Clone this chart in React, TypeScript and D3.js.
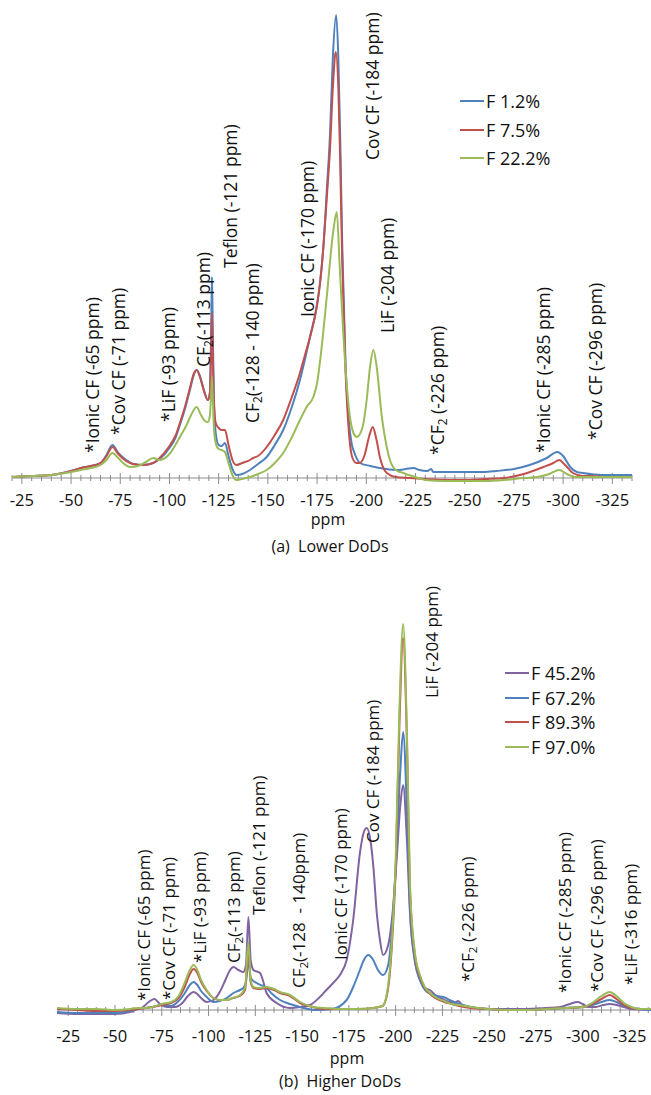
import React from 'react';
import * as d3 from 'd3';

type Pt = [number, number];

// ---------- Lower DoDs: 19F spectra (ppm, intensity) ----------
const lowerNames = ['F 1.2%', 'F 7.5%', 'F 22.2%'];
const lowerColors = ['#4f81bd', '#c0504d', '#9bbb59'];

const lowerF1_2: Pt[] = [
  [-20, 1], [-30, 2], [-40, 3], [-50, 7], [-55, 10], [-60, 12], [-65, 15], [-68, 23], [-71, 33], [-74, 25],
  [-78, 18], [-81.5, 14], [-86.6, 13], [-91.7, 15], [-95, 19], [-100, 30], [-103, 40], [-105.3, 53], [-108, 70],
  [-110.4, 88], [-112.5, 104], [-113.8, 108], [-115.5, 102], [-117.5, 88], [-119.5, 78], [-120.5, 85], [-121.2, 150],
  [-121.6, 201], [-122, 150], [-122.6, 80], [-123.5, 45], [-125, 33], [-126.5, 32], [-128.2, 35], [-130, 22],
  [-132, 9], [-134, 3], [-137, 4], [-140.9, 8], [-145, 14], [-149.4, 21], [-153.5, 33], [-157.8, 48], [-162, 70],
  [-166.3, 98], [-169, 120], [-171.4, 141], [-174.8, 171], [-176.5, 195], [-178.2, 231], [-180, 290], [-181.6, 345],
  [-183, 420], [-184.7, 463], [-185.8, 420], [-186.7, 345], [-187.8, 231], [-189.5, 111], [-191, 60], [-192.5, 35],
  [-194, 25], [-196.8, 15], [-202, 12], [-210, 9], [-216, 8], [-220, 9], [-224, 10], [-227, 8], [-231, 7], [-233, 9],
  [-234, 6], [-240, 6], [-250, 6], [-260, 6], [-266, 7], [-275, 9], [-283, 13], [-291.7, 20], [-297, 26], [-300, 22],
  [-303.6, 11], [-307, 6], [-310, 5], [-320, 3], [-335, 3],
];

const lowerF7_5: Pt[] = [
  [-20, 1], [-30, 2], [-40, 3], [-50, 7], [-55, 10], [-60, 12], [-65, 15], [-68, 22], [-71, 31], [-74, 24],
  [-78, 17], [-81.5, 14], [-86.6, 13], [-91.7, 15], [-95, 20], [-100, 32], [-103, 42], [-105.3, 55], [-108, 72],
  [-110.4, 90], [-112.5, 105], [-113.8, 108], [-115.5, 101], [-117.5, 87], [-119.5, 78], [-120.5, 84], [-121.2, 130],
  [-121.6, 165], [-122, 125], [-122.6, 75], [-123.5, 55], [-125, 50], [-126.5, 48], [-128.2, 48], [-130, 33],
  [-132, 18], [-134, 13], [-137, 15], [-140.9, 18], [-142.5, 20], [-145, 22], [-149.4, 31], [-153.5, 43],
  [-157.8, 58], [-162, 80], [-166.3, 105], [-169, 124], [-171.4, 141], [-174.8, 171], [-176.5, 195], [-178.2, 231],
  [-180, 282], [-181.6, 330], [-183, 390], [-184.5, 426], [-185.8, 390], [-186.7, 320], [-187.8, 215], [-189.5, 105],
  [-191, 50], [-193, 20], [-195, 15], [-196.5, 15], [-199, 22], [-201.5, 42], [-203.3, 51], [-205, 40], [-207, 20],
  [-210.4, 5], [-215, 1], [-222, 0], [-230, -1], [-240, -2], [-250, -2], [-260, -1], [-270, 0], [-280, 4],
  [-290, 11], [-295, 15], [-298, 18], [-301, 13], [-305, 5], [-310, 2], [-315, 2], [-320, 1], [-335, 1],
];

const lowerF22_2: Pt[] = [
  [-20, 1], [-30, 2], [-40, 3], [-50, 6], [-55, 8], [-60, 10], [-65, 13], [-68, 18], [-71, 25], [-74, 20],
  [-77, 14], [-80, 11], [-84, 12], [-88, 16], [-91.7, 20], [-95, 18], [-100, 24], [-105.3, 41], [-108.7, 53],
  [-111, 63], [-113.8, 71], [-116, 63], [-118, 57], [-119.5, 56], [-120.5, 62], [-121.2, 85], [-121.6, 101],
  [-122, 80], [-122.6, 50], [-123.5, 35], [-125, 29], [-126.5, 28], [-128.2, 26], [-130, 15], [-132, 3], [-134, -2],
  [-137, -1], [-140.9, 1], [-145, 4], [-149.4, 8], [-153.5, 15], [-157.8, 25], [-162, 40], [-166.3, 58],
  [-170, 72], [-173.1, 81], [-175, 95], [-177, 125], [-179.9, 181], [-183.3, 248], [-185, 266], [-186.5, 211],
  [-188.3, 145], [-190, 95], [-191.7, 61], [-193.5, 45], [-195.2, 41], [-198, 50], [-200.2, 78], [-201.9, 111],
  [-203.6, 128], [-205.3, 111], [-207.9, 61], [-210, 35], [-212, 18], [-215, 8], [-218.8, 5], [-225, 1], [-230, -2],
  [-240, -3], [-250, -3], [-260, -3], [-270, -2], [-280, 0], [-287, 1], [-293, 4], [-298, 8], [-302, 4],
  [-306, 1], [-315, 1], [-335, 1],
];

// ---------- Higher DoDs ----------
const higherNames = ['F 45.2%', 'F 67.2%', 'F 89.3%', 'F 97.0%'];
const higherColors = ['#8064a2', '#4f81bd', '#c0504d', '#9bbb59'];

const higherF45_2: Pt[] = [
  [-19, -3], [-30, -4], [-40, -4], [-50, -4], [-58, -2], [-62, 1], [-65, 3], [-68, 8], [-71, 11], [-74, 6],
  [-78, 3], [-82, 3], [-86, 7], [-89, 14], [-92, 18], [-94, 16], [-96, 12], [-99, 8], [-102.6, 10], [-106, 18],
  [-109, 30], [-111.5, 40], [-113.3, 43], [-116, 40], [-118.6, 38], [-120, 45], [-121.3, 93], [-122.5, 50],
  [-124, 40], [-127.5, 37], [-129, 30], [-131, 17], [-136.4, 7], [-143.5, 2], [-148.9, 3], [-154.2, 5],
  [-159.5, 13], [-163, 20], [-166.6, 27], [-170.2, 35], [-173.8, 50], [-177.3, 90], [-180.9, 157], [-183, 178],
  [-184.5, 182], [-186.5, 170], [-188, 145], [-190, 95], [-191.6, 70], [-193.3, 55], [-196, 65], [-198.5, 100],
  [-200.5, 150], [-202.5, 205], [-204, 225], [-206, 170], [-207.7, 95], [-210.3, 48], [-213, 30], [-215.6, 22],
  [-218.3, 20], [-221.8, 14], [-225, 11], [-228.9, 8], [-231.5, 7], [-233.4, 9], [-235, 6], [-239.6, 3],
  [-250, 1], [-260, 1], [-270, 1], [-280, 2], [-288, 3], [-293, 6], [-297.3, 8], [-300, 6], [-303, 3],
  [-307, 3], [-311, 5], [-314.4, 6], [-318, 5], [-322, 3], [-326, 1], [-337, 0],
];

const higherF67_2: Pt[] = [
  [-19, -2], [-30, -3], [-40, -3], [-50, -3], [-58, -1], [-62, 1], [-66, 2], [-70, 3], [-75, 5], [-80, 4],
  [-84, 9], [-87, 16], [-90, 25], [-92, 28], [-94, 25], [-96, 19], [-99, 13], [-102.6, 8], [-106, 9],
  [-109.7, 12], [-113.3, 17], [-116.8, 20], [-118.6, 22], [-120, 28], [-121.3, 50], [-122.5, 32], [-125.7, 27],
  [-131, 22], [-134, 16], [-138.2, 10], [-143.5, 6], [-148.9, 3], [-157.8, 0], [-166, 1], [-173.8, 10],
  [-177.3, 23], [-180.9, 40], [-183, 50], [-185.4, 55], [-188, 50], [-190.5, 40], [-193.3, 35], [-196, 45],
  [-198, 80], [-200.5, 160], [-202.5, 240], [-204, 278], [-206, 200], [-207.7, 100], [-210.3, 50], [-213, 30],
  [-215.6, 20], [-219, 16], [-222, 14], [-225.4, 13], [-230, 9], [-234, 6], [-240, 3], [-250, 1], [-260, 0],
  [-270, 0], [-280, 1], [-290, 2], [-300, 3], [-305, 5], [-310, 8], [-314.4, 10], [-318, 8], [-322, 4],
  [-326, 2], [-330, 1], [-337, 0],
];

const higherF89_3: Pt[] = [
  [-19, 1], [-30, 0], [-40, -1], [-50, -1], [-58, 0], [-62, 1], [-66, 2], [-70, 3], [-75, 5], [-80, 7],
  [-84, 12], [-87, 22], [-90, 36], [-92, 41], [-94, 37], [-96, 28], [-99, 19], [-102.6, 12], [-106, 10],
  [-109.7, 10], [-113, 12], [-116.8, 14], [-119.5, 20], [-121.3, 60], [-122.5, 28], [-124, 22], [-127, 21],
  [-131, 22], [-135, 20], [-138.2, 17], [-143.5, 14], [-148.9, 7], [-155.9, 3], [-162, 1], [-170, 1], [-180, 1],
  [-188, 2], [-193, 4], [-196, 22], [-198, 65], [-200, 140], [-202, 285], [-204, 372], [-206, 270], [-207.7, 118],
  [-210.3, 55], [-213, 33], [-215.6, 22], [-219, 15], [-222, 11], [-226, 8], [-230, 6], [-234, 4], [-240, 2],
  [-250, 1], [-260, 0], [-270, 0], [-280, 1], [-290, 2], [-300, 3], [-305, 6], [-310, 11], [-314.4, 15],
  [-318, 11], [-322, 5], [-326, 2], [-330, 1], [-337, 1],
];

const higherF97_0: Pt[] = [
  [-19, 2], [-30, 1], [-40, 1], [-50, 0], [-58, 1], [-62, 2], [-66, 2], [-70, 3], [-75, 6], [-80, 8],
  [-84, 14], [-87, 26], [-90, 40], [-92, 45], [-94, 40], [-96, 30], [-99, 20], [-102.6, 12], [-106, 10],
  [-109.7, 10], [-113, 12], [-116.8, 15], [-119.5, 22], [-121.3, 68], [-122.5, 30], [-124, 23], [-127, 22],
  [-131, 23], [-135, 21], [-138.2, 18], [-143.5, 15], [-148.9, 8], [-155.9, 3], [-162, 2], [-170, 1], [-180, 1],
  [-188, 2], [-193, 4], [-196, 25], [-198, 70], [-200, 150], [-202, 300], [-204, 386], [-206, 280], [-207.7, 123],
  [-210.3, 57], [-213, 35], [-215.6, 23], [-219, 16], [-222, 12], [-226, 9], [-230, 6], [-234, 5], [-240, 3],
  [-250, 1], [-260, 0], [-270, 0], [-280, 1], [-290, 2], [-300, 3], [-305, 7], [-310, 14], [-314.4, 18],
  [-318, 14], [-322, 7], [-326, 3], [-330, 1], [-337, 1],
];

// ---------- axis ticks ----------
const majorTicks = [-25, -50, -75, -100, -125, -150, -175, -200, -225, -250, -275, -300, -325];

// ---------- peak assignments (text, ppm position of label) ----------
const lowerLabels: { text: string; at: number; y: number }[] = [
  { text: '*Ionic CF (-65 ppm)', at: -60.5, y: 453 },
  { text: '*Cov CF (-71 ppm)', at: -74, y: 435 },
  { text: '*LiF (-93 ppm)', at: -99.4, y: 422 },
  { text: 'CF_2(-113 ppm)', at: -117.2, y: 367 },
  { text: 'Teflon (-121 ppm)', at: -130.8, y: 268 },
  { text: 'CF_2(-128 - 140 ppm)', at: -141.8, y: 423 },
  { text: 'Ionic CF (-170 ppm)', at: -169.7, y: 317 },
  { text: 'Cov CF (-184 ppm)', at: -202.8, y: 160 },
  { text: 'LiF (-204 ppm)', at: -210.4, y: 333 },
  { text: '*CF_2 (-226 ppm)', at: -235.8, y: 455 },
  { text: '*Ionic CF (-285 ppm)', at: -290, y: 453 },
  { text: '*Cov CF (-296 ppm)', at: -316.2, y: 440 },
];

const higherLabels: { text: string; at: number; y: number }[] = [
  { text: '*Ionic CF (-65 ppm)', at: -65.1, y: 1001 },
  { text: '*Cov CF (-71 ppm)', at: -78.5, y: 1000 },
  { text: '*LiF (-93 ppm)', at: -95.4, y: 963 },
  { text: 'CF_2(-113 ppm)', at: -113.2, y: 963 },
  { text: 'Teflon (-121 ppm)', at: -126.6, y: 915 },
  { text: 'CF_2(-128  - 140ppm)', at: -148, y: 988 },
  { text: 'Ionic CF (-170 ppm)', at: -170.3, y: 960 },
  { text: 'Cov CF (-184 ppm)', at: -187.4, y: 843 },
  { text: 'LiF (-204 ppm)', at: -219.3, y: 698 },
  { text: '*CF_2 (-226 ppm)', at: -238, y: 982 },
  { text: '*Ionic CF (-285 ppm)', at: -290.5, y: 993 },
  { text: '*Cov CF (-296 ppm)', at: -307.5, y: 992 },
  { text: '*LiF (-316 ppm)', at: -325.3, y: 985 },
];

const FONT = "'Open Sans', 'DejaVu Sans', sans-serif";
const AXIS_GREY = '#8c8c8c';

function Label({ text, x, y, size }: { text: string; x: number; y: number; size: number }) {
  const parts = text.split('_2');
  return (
    <text
      transform={`translate(${x},${y}) rotate(-90)`}
      dominantBaseline="central"
      fontSize={size}
      fill="#111"
      style={{ whiteSpace: 'pre' }}
    >
      {parts.length === 1 ? (
        text
      ) : (
        <>
          <tspan>{parts[0]}</tspan>
          <tspan fontSize={size * 0.68} dy={size * 0.28}>2</tspan>
          <tspan dy={-size * 0.28}>{parts[1]}</tspan>
        </>
      )}
    </text>
  );
}

type PanelProps = {
  series: Pt[][];
  names: string[];
  colors: string[];
  xDomain: [number, number];
  xRange: [number, number];
  base: number;
  vMax: number;
  top: number;
  labels: { text: string; at: number; y: number }[];
  labelSize: number;
  legendX: number;
  legendY: number[];
  tickLabelY: number;
  titleX: number;
  titleY: number;
  caption: string;
  captionX: number;
  captionY: number;
};

function Panel(p: PanelProps) {
  const x = d3.scaleLinear().domain(p.xDomain).range(p.xRange);
  const y = d3.scaleLinear().domain([0, p.vMax]).range([p.base, p.top]);
  const line = d3
    .line<Pt>()
    .x((d) => x(d[0]))
    .y((d) => y(d[1]))
    .curve(d3.curveMonotoneX);
  const minor = d3.range(-20, p.xDomain[1] - 0.1, -5).filter((v) => v % 25 !== 0);

  return (
    <g>
      {/* x axis */}
      <line x1={p.xRange[0]} x2={p.xRange[1]} y1={y(0)} y2={y(0)} stroke={AXIS_GREY} strokeWidth={1} />
      {minor.map((v) => (
        <line key={'m' + v} x1={x(v)} x2={x(v)} y1={y(0) - 3} y2={y(0) + 3} stroke={AXIS_GREY} strokeWidth={1} />
      ))}
      {majorTicks.map((v) => (
        <g key={'t' + v}>
          <line x1={x(v)} x2={x(v)} y1={y(0) - 5} y2={y(0) + 6} stroke={AXIS_GREY} strokeWidth={1} />
          <text x={x(v)} y={p.tickLabelY} textAnchor="middle" dominantBaseline="central" fontSize={16.5} fill="#111">
            {v}
          </text>
        </g>
      ))}
      <text x={p.titleX} y={p.titleY} textAnchor="middle" dominantBaseline="central" fontSize={16} fill="#111">
        ppm
      </text>

      {/* spectra */}
      {p.series.map((s, i) => (
        <path key={p.names[i]} d={line(s) || ''} fill="none" stroke={p.colors[i]} strokeWidth={2} strokeLinejoin="round" />
      ))}

      {/* peak assignments */}
      {p.labels.map((l) => (
        <Label key={l.text + l.at} text={l.text} x={x(l.at)} y={l.y} size={p.labelSize} />
      ))}

      {/* legend */}
      {p.names.map((n, i) => (
        <g key={'lg' + n}>
          <line x1={p.legendX} x2={p.legendX + 24} y1={p.legendY[i]} y2={p.legendY[i]} stroke={p.colors[i]} strokeWidth={2} />
          <text x={p.legendX + 26} y={p.legendY[i]} dominantBaseline="central" fontSize={18} fill="#111">
            {n}
          </text>
        </g>
      ))}

      <text x={p.captionX} y={p.captionY} textAnchor="middle" dominantBaseline="central" fontSize={16} fill="#111" style={{ whiteSpace: 'pre' }}>
        {p.caption}
      </text>
    </g>
  );
}

export default function App() {
  return (
    <svg
      width={651}
      height={1095}
      viewBox="0 0 651 1095"
      style={{ position: 'absolute', left: 0, top: 0, background: '#fff', fontFamily: FONT }}
    >
      <rect width={651} height={1095} fill="#fff" />
      <Panel
        series={[lowerF1_2, lowerF7_5, lowerF22_2]}
        names={lowerNames}
        colors={lowerColors}
        xDomain={[-20, -335]}
        xRange={[12, 632]}
        base={478}
        vMax={470}
        top={8}
        labels={lowerLabels}
        labelSize={17.5}
        legendX={460}
        legendY={[101, 130, 158]}
        tickLabelY={499}
        titleX={328}
        titleY={519}
        caption="(a)  Lower DoDs"
        captionX={330}
        captionY={546}
      />
      <Panel
        series={[higherF45_2, higherF67_2, higherF89_3, higherF97_0]}
        names={higherNames}
        colors={higherColors}
        xDomain={[-19, -337]}
        xRange={[57, 652]}
        base={1010}
        vMax={400}
        top={610}
        labels={higherLabels}
        labelSize={17}
        legendX={505}
        legendY={[673, 698, 722, 747]}
        tickLabelY={1035}
        titleX={347}
        titleY={1058}
        caption="(b)  Higher DoDs"
        captionX={340}
        captionY={1081}
      />
    </svg>
  );
}
